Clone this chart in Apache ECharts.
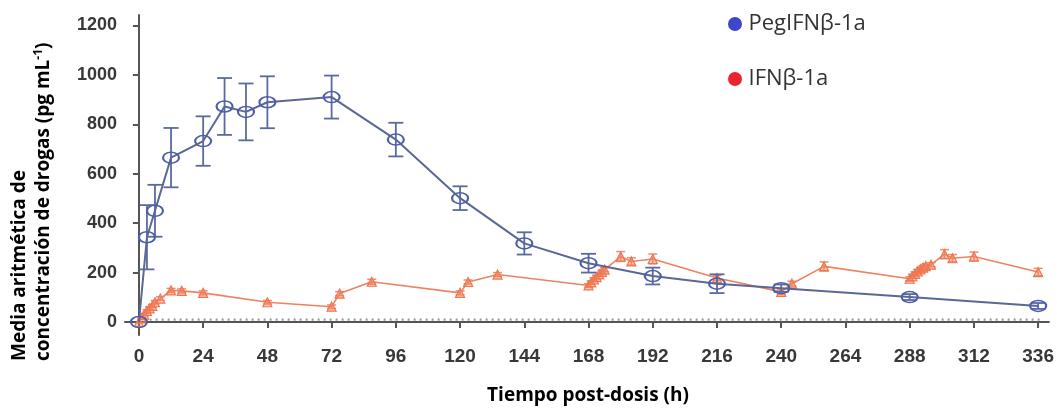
<!DOCTYPE html>
<html>
<head>
<meta charset="utf-8">
<script src="https://cdn.jsdelivr.net/npm/echarts@6/dist/echarts.min.js"></script>
<style>
html,body{margin:0;padding:0;background:#fff;}
#chart{width:1057px;height:411px;}
</style>
</head>
<body>
<div id="chart"></div>
<script>
// ---- Data ----
const xTicks = [0,24,48,72,96,120,144,168,192,216,240,264,288,312,336];
const yTicks = [0,200,400,600,800,1000,1200];

const pegTime = [0,3,6,12,24,32,40,48,72,96,120,144,168,192,216,240,288,336];
const pegMean = [0,343,450,665,732,872,850,889,910,738,501,318,238,186,155,137,101,65];
const pegSD   = [0,130,105,120,100,115,115,105,87,68,48,45,38,34,38,15,12,12];

const ifnTime = [0,1,2,3,4,5,6,8,12,16,24,48,72,75,87,120,123,134,168,169,170,171,172,173,174,180,184,192,216,240,244,256,288,289,290,291,292,293,294,296,301,304,312,336];
const ifnMean = [0,15,30,45,55,65,80,95,128,126,118,80,62,115,163,118,162,192,148,160,172,182,193,203,212,265,245,255,178,122,155,225,175,185,195,205,213,220,226,232,275,258,265,202];
const ifnSD   = [0,4,5,5,6,6,7,7,8,8,8,7,7,8,10,8,8,8,7,7,7,7,7,7,8,20,15,20,10,10,10,18,8,8,8,8,8,8,8,8,18,15,18,15];

const lloqValue = 10;
const lloqTimes = [4, 338];

const seriesNames = ['PegIFNβ-1a', 'IFNβ-1a'];

// ---- Helpers ----
function errData(t, m, s){
  const out = [];
  for (let i=0;i<t.length;i++){ if (s[i] > 0) out.push([t[i], m[i]-s[i], m[i]+s[i]]); }
  return out;
}
function errRender(color, capW, lw){
  return function(params, api){
    const x = api.value(0), lo = api.value(1), hi = api.value(2);
    const a = api.coord([x, hi]), b = api.coord([x, lo]);
    const st = {stroke: color, lineWidth: lw};
    return {type:'group', children:[
      {type:'line', shape:{x1:a[0],y1:a[1],x2:b[0],y2:b[1]}, style:st},
      {type:'line', shape:{x1:a[0]-capW/2,y1:a[1],x2:a[0]+capW/2,y2:a[1]}, style:st},
      {type:'line', shape:{x1:b[0]-capW/2,y1:b[1],x2:b[0]+capW/2,y2:b[1]}, style:st}
    ]};
  };
}

const chart = echarts.init(document.getElementById('chart'), null, {renderer:'canvas'});
const axisColor = '#555';
const labelFamily = 'Liberation Sans, Arial, sans-serif';

const option = {
  animation: false,
  backgroundColor: '#fff',
  grid: {left:125, right:7, top:15, bottom:76, containLabel:false},
  xAxis: {
    type:'value', min:-5.2, max:340,
    axisLine:{show:true, lineStyle:{color:axisColor, width:2}},
    axisTick:{show:true, customValues:xTicks, length:6, lineStyle:{color:axisColor, width:2}},
    axisLabel:{customValues:xTicks, margin:12, color:'#383838', fontSize:19, fontWeight:'bold', fontFamily:labelFamily,
      formatter: v => String(v)},
    splitLine:{show:false}
  },
  yAxis: {
    type:'value', min:-52.5, max:1242,
    axisLine:{show:true, lineStyle:{color:axisColor, width:2}},
    axisTick:{show:true, customValues:yTicks, length:6, lineStyle:{color:axisColor, width:2}},
    axisLabel:{customValues:yTicks, margin:8, color:'#383838', fontSize:18, fontWeight:'bold', fontFamily:labelFamily,
      formatter: v => String(v)},
    splitLine:{show:false}
  },
  legend: {
    orient:'vertical', left:723, top:8, itemGap:33, itemWidth:17, itemHeight:14,
    textStyle:{color:'#333', fontSize:22, fontFamily:'Open Sans, sans-serif'},
    data:[
      {name:seriesNames[0], icon:'circle', itemStyle:{color:'#3d48c9', borderWidth:0}},
      {name:seriesNames[1], icon:'circle', itemStyle:{color:'#e8242c', borderWidth:0}}
    ]
  },
  graphic: [
    {type:'text', x:20, y:361, rotation:Math.PI/2,
     style:{text:'Media aritmética de', fill:'#000', font:'bold 19px "Open Sans", sans-serif', textAlign:'left', textVerticalAlign:'middle'}},
    {type:'text', x:43, y:361, rotation:Math.PI/2,
     style:{text:'{a|concentración de drogas (pg mL}{s|-1}{a|)}', fill:'#000', textAlign:'left', textVerticalAlign:'middle',
       rich:{a:{fontSize:19, fontWeight:'bold', fontFamily:'Open Sans, sans-serif', fill:'#000', verticalAlign:'bottom'},
             s:{fontSize:12, fontWeight:'bold', fontFamily:'Open Sans, sans-serif', fill:'#000', verticalAlign:'top', padding:[0,0,8,0]}}}},
    {type:'text', x:588, y:396,
     style:{text:'Tiempo post-dosis (h)', fill:'#000', font:'bold 19px "Open Sans", sans-serif', textAlign:'center', textVerticalAlign:'middle'}}
  ],
  series: [
    {
      name:'LLOQ', type:'line', data: lloqTimes.map(t=>[t, lloqValue]), symbol:'none', silent:true,
      lineStyle:{color:'#9a9a9a', width:2.2, type:[2,4]}, z:1
    },
    {
      name:'errIFN', type:'custom', data: errData(ifnTime, ifnMean, ifnSD),
      renderItem: errRender('#ef8e70', 9, 1.5), z:2, silent:true
    },
    {
      name:seriesNames[1], type:'line', data: ifnTime.map((t,i)=>[t, ifnMean[i]]),
      symbol:'triangle', symbolSize:9, showAllSymbol:true,
      lineStyle:{color:'#ef8262', width:1.6},
      itemStyle:{color:'rgba(240,130,95,0.45)', borderColor:'#ee7650', borderWidth:1.2},
      z:3
    },
    {
      name:'errPeg', type:'custom', data: errData(pegTime, pegMean, pegSD),
      renderItem: errRender('#5a6aa0', 15, 1.8), z:4, silent:true
    },
    {
      name:seriesNames[0], type:'line', data: pegTime.map((t,i)=>[t, pegMean[i]]),
      symbol:'circle', symbolSize:[16,11], showAllSymbol:true,
      lineStyle:{color:'#5b6795', width:2},
      itemStyle:{color:'rgba(255,255,255,0)', borderColor:'#4e5eab', borderWidth:1.8},
      z:5
    }
  ]
};
chart.setOption(option);
</script>
</body>
</html>
